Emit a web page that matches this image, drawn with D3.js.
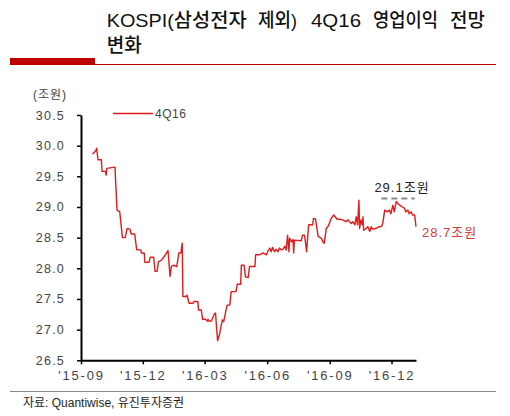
<!DOCTYPE html>
<html>
<head>
<meta charset="utf-8">
<script src="https://cdn.jsdelivr.net/npm/d3@7"></script>
<style>
  body { margin: 0; background: #fff; }
  svg text { font-family: "Liberation Sans", "Noto Sans CJK KR", sans-serif; }
</style>
</head>
<body>
<div id="chart"></div>
<script>
// 4Q16 operating profit consensus (KOSPI ex Samsung Electronics), trillion won
const dates = [
  '2015-09-18','2015-09-23','2015-09-24','2015-09-26','2015-10-01','2015-10-02','2015-10-07','2015-10-08',
  '2015-10-09','2015-10-21','2015-10-24','2015-10-28','2015-11-01','2015-11-05','2015-11-08','2015-11-12',
  '2015-11-14','2015-11-19','2015-11-22','2015-11-28','2015-11-29','2015-12-03','2015-12-04','2015-12-10',
  '2015-12-12','2015-12-17','2015-12-19','2015-12-22','2015-12-24','2015-12-28','2016-01-02','2016-01-07',
  '2016-01-10','2016-01-12','2016-01-15','2016-01-20','2016-01-23','2016-01-26','2016-01-28','2016-01-29',
  '2016-02-02','2016-02-04','2016-02-07','2016-02-13','2016-02-14','2016-02-20','2016-02-21','2016-02-25',
  '2016-02-27','2016-03-02','2016-03-05','2016-03-06','2016-03-07','2016-03-11','2016-03-15','2016-03-17',
  '2016-03-18','2016-03-20','2016-03-23','2016-03-27','2016-03-29','2016-03-31','2016-04-03','2016-04-07',
  '2016-04-09','2016-04-16','2016-04-18','2016-04-23','2016-04-24','2016-04-28','2016-04-30','2016-05-04',
  '2016-05-06','2016-05-14','2016-05-15','2016-05-21','2016-05-26','2016-05-31','2016-06-02','2016-06-05',
  '2016-06-07','2016-06-09','2016-06-12','2016-06-14','2016-06-17','2016-06-19','2016-06-22','2016-06-24',
  '2016-06-27','2016-06-29','2016-07-01','2016-07-03','2016-07-04','2016-07-07','2016-07-09','2016-07-10',
  '2016-07-11','2016-07-21','2016-07-23','2016-07-26','2016-07-29','2016-08-01','2016-08-07','2016-08-08',
  '2016-08-11','2016-08-15','2016-08-20','2016-08-22','2016-08-24','2016-08-27','2016-08-30','2016-09-03',
  '2016-09-07','2016-09-12','2016-09-16','2016-09-20','2016-09-25','2016-09-28','2016-09-30','2016-10-03',
  '2016-10-05','2016-10-08','2016-10-10','2016-10-12','2016-10-14','2016-10-15','2016-10-17','2016-10-19',
  '2016-10-20','2016-10-21','2016-10-25','2016-10-27','2016-10-30','2016-11-01','2016-11-03','2016-11-08',
  '2016-11-13','2016-11-16','2016-11-18','2016-11-21','2016-11-25','2016-11-28','2016-11-30','2016-12-03',
  '2016-12-05','2016-12-08','2016-12-10','2016-12-13','2016-12-17','2016-12-20','2016-12-22','2016-12-25',
  '2016-12-27','2016-12-30','2017-01-01','2017-01-04','2017-01-06'
];
const values = [
  29.86,29.92,29.96,29.77,29.77,29.58,29.58,29.52,
  29.63,29.65,28.95,28.92,28.50,28.50,28.65,28.64,
  28.56,28.56,28.30,28.30,28.25,28.25,28.10,28.10,
  28.18,28.18,27.95,27.95,28.11,28.13,28.20,28.29,
  27.87,28.03,28.05,28.03,28.25,28.25,28.41,27.54,
  27.54,27.56,27.43,27.43,27.46,27.46,27.32,27.32,
  27.17,27.17,27.14,27.17,27.14,27.14,27.25,27.27,
  27.11,26.82,26.93,27.16,27.13,27.24,27.40,27.40,
  27.62,27.62,27.74,27.74,28.05,28.05,27.86,27.85,
  28.03,28.03,28.22,28.22,28.25,28.22,28.28,28.33,
  28.27,28.34,28.27,28.31,28.27,28.33,28.30,28.31,
  28.36,28.30,28.54,28.27,28.49,28.43,28.47,28.25,
  28.46,28.45,28.54,28.54,28.27,28.71,28.71,28.81,
  28.81,28.52,28.49,28.43,28.41,28.65,28.69,28.81,
  28.87,28.80,28.80,28.79,28.76,28.79,28.76,28.73,
  28.76,28.71,28.84,28.71,29.11,28.65,28.79,28.71,
  28.84,28.62,28.65,28.68,28.60,28.68,28.64,28.65,
  28.68,28.68,28.73,28.95,28.92,28.95,28.89,29.03,
  28.92,29.09,29.06,29.03,29.00,28.98,28.92,28.95,
  28.89,28.92,28.87,28.87,28.68
];
const yTicks = [26.5, 27.0, 27.5, 28.0, 28.5, 29.0, 29.5, 30.0, 30.5];
const xTicks = ['2015-09-01','2015-12-01','2016-03-01','2016-06-01','2016-09-01','2016-12-01'];
const seriesName = '4Q16';
const peakValue = 29.1;
const lastValue = 28.7;
const titleWords = ['KOSPI(삼성전자', '제외)', '4Q16', '영업이익', '전망'];
const titleLine2 = '변화';

const parse = d3.timeParse('%Y-%m-%d');
const data = dates.map((d, i) => ({ date: parse(d), value: values[i] }));

const width = 510, height = 416;
const svg = d3.select('#chart').append('svg')
    .attr('width', width)
    .attr('height', height);

// Title block: each word placed where it sits in the original layout
const titleX = [106.7, 258, 311, 373, 450];
const titleW = [140, 39, 50, 65, 35];
const title = svg.append('g')
    .attr('fill', '#111')
    .style('font-size', '19px')
    .style('font-weight', 500);
title.selectAll('text.word')
  .data(titleWords)
  .join('text')
    .attr('class', 'word')
    .attr('x', (d, i) => titleX[i])
    .attr('y', 26.5)
    .attr('textLength', (d, i) => titleW[i])
    .attr('lengthAdjust', 'spacingAndGlyphs')
    .text(d => d);
title.append('text')
    .attr('x', 106.7).attr('y', 52)
    .attr('textLength', 35)
    .attr('lengthAdjust', 'spacingAndGlyphs')
    .text(titleLine2);

svg.append('rect').attr('x', 10).attr('y', 58).attr('width', 85).attr('height', 7).attr('fill', '#c00000');
svg.append('line').attr('x1', 95).attr('x2', 496).attr('y1', 64.5).attr('y2', 64.5)
    .attr('stroke', '#c00000').attr('stroke-width', 1);

// Scales
const x = d3.scaleTime()
    .domain([parse('2015-09-01'), parse('2017-01-06')])
    .range([81, 416]);
const y = d3.scaleLinear()
    .domain([26.5, 30.5])
    .range([360.3, 115]);

// Axes
const yAxis = d3.axisLeft(y)
    .tickValues(yTicks)
    .tickFormat(d3.format('.1f'))
    .tickSizeInner(4)
    .tickSizeOuter(0)
    .tickPadding(12);
const yAxisG = svg.append('g')
    .attr('transform', `translate(${x.range()[0]},0)`)
    .call(yAxis);

const xAxis = d3.axisBottom(x)
    .tickValues(xTicks.map(parse))
    .tickFormat(d3.timeFormat("'%y-%m"))
    .tickSizeInner(4)
    .tickSizeOuter(0)
    .tickPadding(6);
const xAxisG = svg.append('g')
    .attr('transform', `translate(0,${y.range()[0]})`)
    .call(xAxis);

[yAxisG, xAxisG].forEach(g => {
  g.select('.domain').attr('stroke', '#000').attr('stroke-width', 2);
  g.selectAll('.tick line').attr('stroke', '#000').attr('stroke-width', 1.5);
  g.selectAll('.tick text')
      .attr('fill', '#444')
      .style('font-size', '12.5px')
      .style('letter-spacing', '1.2px');
});
xAxisG.selectAll('.tick text').style('font-size', '13px').style('letter-spacing', '1.8px');

svg.append('text')
    .attr('x', 33).attr('y', 99)
    .attr('fill', '#444')
    .style('font-size', '12px')
    .style('letter-spacing', '1px')
    .text('(조원)');

// Legend
svg.append('line')
    .attr('x1', 113).attr('x2', 153).attr('y1', 113.5).attr('y2', 113.5)
    .attr('stroke', '#e01b1b').attr('stroke-width', 1.5);
svg.append('text')
    .attr('x', 155).attr('y', 118)
    .attr('fill', '#444')
    .style('font-size', '12px')
    .style('letter-spacing', '0.5px')
    .text(seriesName);

// Series line
const line = d3.line()
    .x(d => x(d.date))
    .y(d => y(d.value));
svg.append('path')
    .datum(data)
    .attr('fill', 'none')
    .attr('stroke', '#e01b1b')
    .attr('stroke-width', 1.4)
    .attr('stroke-linejoin', 'round')
    .attr('d', line);

// Annotations
svg.append('line')
    .attr('x1', x(parse('2016-11-16'))).attr('x2', x(parse('2017-01-04')))
    .attr('y1', y(peakValue + 0.04)).attr('y2', y(peakValue + 0.04))
    .attr('stroke', '#888').attr('stroke-width', 2)
    .attr('stroke-dasharray', '6,4');
svg.append('text')
    .attr('x', 402).attr('y', 192)
    .attr('text-anchor', 'middle')
    .attr('fill', '#222')
    .style('font-size', '13px')
    .style('letter-spacing', '1px')
    .text(`${peakValue.toFixed(1)}조원`);
svg.append('text')
    .attr('x', 422).attr('y', 237)
    .attr('fill', '#d63a3a')
    .style('font-size', '13px')
    .style('letter-spacing', '1px')
    .text(`${lastValue.toFixed(1)}조원`);

// Source
svg.append('line')
    .attr('x1', 10).attr('x2', 496).attr('y1', 391.5).attr('y2', 391.5)
    .attr('stroke', '#888').attr('stroke-width', 1);
svg.append('text')
    .attr('x', 23).attr('y', 407)
    .attr('fill', '#222')
    .style('font-size', '12px')
    .text('자료: Quantiwise, 유진투자증권');
</script>
</body>
</html>
